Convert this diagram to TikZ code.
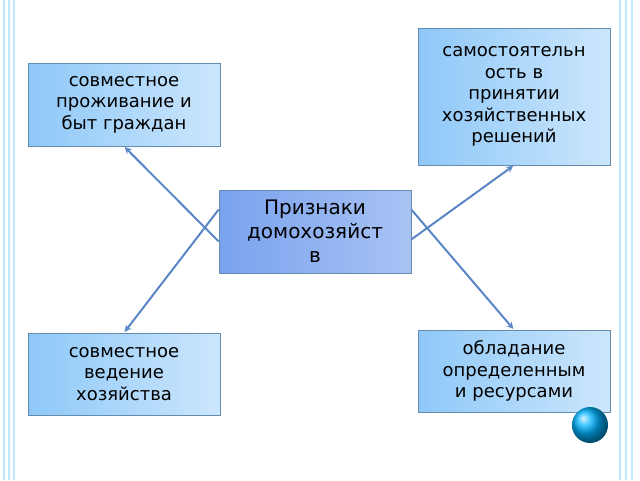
\documentclass[tikz,border=0pt]{standalone}
\usepackage{fontspec}
\setmainfont{DejaVu Sans}
\definecolor{boxblue}{HTML}{8EC8F8}
\definecolor{midblue}{HTML}{7AA2EE}
\definecolor{linkblue}{HTML}{5B86C6}
\begin{document}
\begin{tikzpicture}[x=1pt,y=-1pt,>=stealth,
  sign/.style={draw=boxblue!70!black,line width=0.6pt,left color=boxblue,right color=boxblue!45,
    align=center,inner sep=2pt,font=\fontsize{18}{21.5}\selectfont},
  link/.style={->,draw=linkblue,line width=2pt,shorten >=1pt}]
\useasboundingbox (0,0) rectangle (640,480);
% side stripes
\foreach \xx in {4,9,14} \draw[cyan!25,line width=1.2pt] (\xx,0)--(\xx,480);
\foreach \xx in {620,626,632} \draw[cyan!25,line width=1.2pt] (\xx,0)--(\xx,480);
\node[sign,left color=midblue,right color=midblue!65,minimum width=192,minimum height=83,
  font=\fontsize{20}{24}\selectfont] (main) at (315,231.5) {Признаки\\ домохозяйст\\ в};
\node[sign,minimum width=192,minimum height=83] (life) at (124,104.5) {совместное\\ проживание и\\ быт граждан};
\node[sign,minimum width=192,minimum height=137] (self) at (514,96.5) {самостоятельн\\ ость в\\ принятии\\ хозяйственных\\ решений};
\node[sign,minimum width=192,minimum height=82] (farm) at (124,374) {совместное\\ ведение\\ хозяйства};
\node[sign,minimum width=192,minimum height=82] (res) at (514,371) {обладание\\ определенным\\ и ресурсами};
\draw[link] ([yshift=-10]main.west) -- (life.south);
\draw[link] ([yshift=22]main.west) -- (farm.north);
\draw[link] ([yshift=-8]main.east) -- (self.south);
\draw[link] ([yshift=22]main.east) -- (res.north);
\shade[ball color=cyan!70!blue] (590,425) circle (18);
\end{tikzpicture}
\end{document}
